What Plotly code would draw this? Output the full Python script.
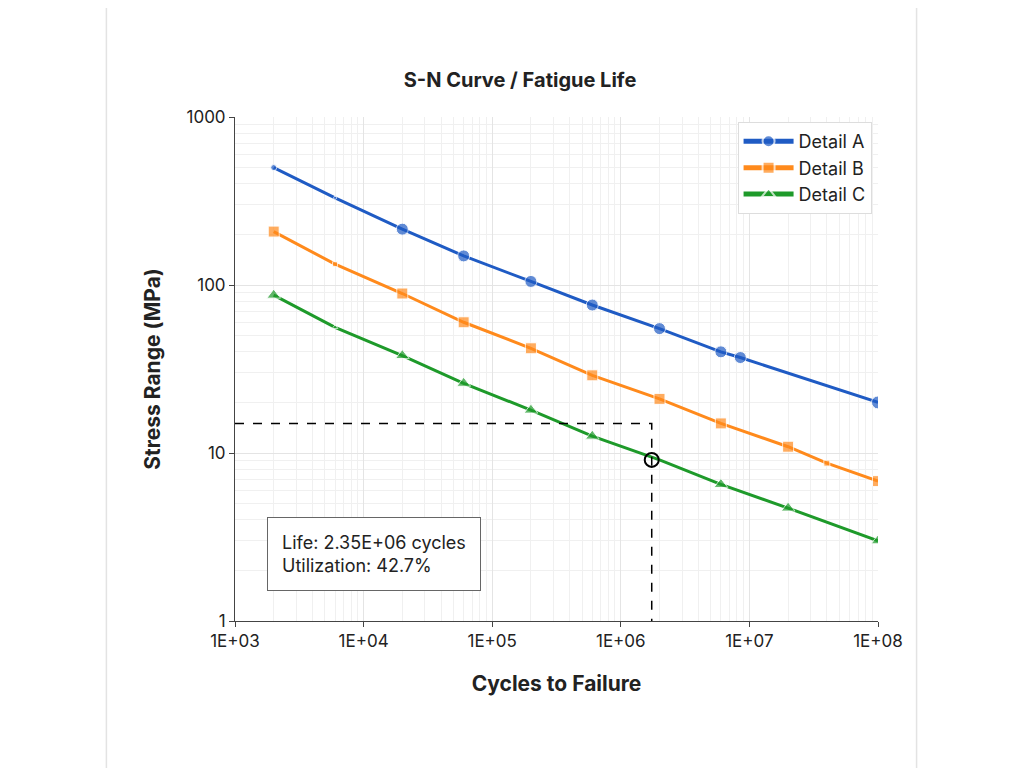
import plotly.graph_objects as go

# Cycles and stress ranges
cycles_a = [2e3, 6e3, 2e4, 6e4, 2e5, 6e5, 2e6, 6e6, 8.5e6, 1e8]
stress_a = [500, 330, 215, 149, 105, 76, 55, 40, 37, 20]
size_a = [6, 3, 12, 12, 12, 12, 12, 12, 12, 13]

cycles_b = [2e3, 6e3, 2e4, 6e4, 2e5, 6e5, 2e6, 6e6, 2e7, 4e7, 1e8]
stress_b = [208, 133, 89, 60, 42, 29, 21, 15, 10.9, 8.7, 6.8]
size_b = [11, 5, 11, 11, 11, 11, 11, 11, 11, 6, 11]

cycles_c = [2e3, 6e3, 2e4, 6e4, 2e5, 6e5, 2e6, 6e6, 2e7, 1e8]
stress_c = [87, 56, 38, 26, 18, 12.6, 9.1, 6.5, 4.7, 3.0]
size_c = [12, 5, 12, 12, 12, 12, 0, 12, 12, 12]

design_cycles = 1.74e6
design_stress = 15
point_stress = 9.1

tick_vals = [1e3, 1e4, 1e5, 1e6, 1e7, 1e8]
tick_text = ["1E+03", "1E+04", "1E+05", "1E+06", "1E+07", "1E+08"]

fig = go.Figure()
fig.add_trace(go.Scatter(x=cycles_a, y=stress_a, name="Detail A", mode="lines+markers",
                         line=dict(color="#1f5bc4", width=3),
                         marker=dict(symbol="circle", size=size_a)))
fig.add_trace(go.Scatter(x=cycles_b, y=stress_b, name="Detail B", mode="lines+markers",
                         line=dict(color="#ff8a1c", width=3),
                         marker=dict(symbol="square", size=size_b)))
fig.add_trace(go.Scatter(x=cycles_c, y=stress_c, name="Detail C", mode="lines+markers",
                         line=dict(color="#1e9a2a", width=3),
                         marker=dict(symbol="triangle-up", size=size_c)))

# Design point lines
fig.add_trace(go.Scatter(x=[1e3, design_cycles, design_cycles], y=[design_stress, design_stress, 1],
                         mode="lines", line=dict(color="black", width=1.5, dash="dash"),
                         showlegend=False, hoverinfo="skip"))
fig.add_trace(go.Scatter(x=[design_cycles], y=[point_stress], mode="markers",
                         marker=dict(symbol="circle-open", size=14, color="black", line=dict(width=2)),
                         showlegend=False))

fig.add_annotation(x=0.05, y=0.06, xref="paper", yref="paper", xanchor="left", yanchor="bottom",
                   text="Life: 2.35E+06 cycles<br>Utilization: 42.7%", showarrow=False,
                   align="left", font=dict(size=18, color="#222"),
                   bordercolor="#666", borderwidth=1, borderpad=14, bgcolor="white")

fig.add_shape(type="rect", xref="paper", yref="paper", x0=-0.2, x1=1.06, y0=-0.33, y1=1.225,
              line=dict(color="#e3e3e3", width=1.5), layer="below")

fig.update_layout(
    width=1024, height=768,
    paper_bgcolor="white", plot_bgcolor="white",
    margin=dict(l=227, r=154, t=109, b=155),
    title=dict(text="<b>S-N Curve / Fatigue Life</b>", x=0.5, xanchor="center", y=0.915,
               font=dict(size=20, color="#222")),
    font=dict(family="Inter, Roboto, sans-serif", size=17, color="#222"),
    legend=dict(x=0.99, y=0.99, xanchor="right", yanchor="top", bordercolor="#ddd",
                borderwidth=1, bgcolor="white", font=dict(size=18), itemwidth=50,
                tracegroupgap=10, itemsizing="constant"),
    showlegend=True,
)
minor = dict(showgrid=True, gridcolor="#f0f0f0", dtick="D1")
fig.update_xaxes(type="log", range=[3, 8], tickvals=tick_vals, ticktext=tick_text,
                 title=dict(text="<b>Cycles to Failure</b>", font=dict(size=21), standoff=25),
                 showgrid=True, gridcolor="#e4e4e4", linecolor="#444", showline=True,
                 minor=minor, ticks="outside", zeroline=False)
fig.update_yaxes(type="log", range=[0, 3], tickvals=[1, 10, 100, 1000],
                 ticktext=["1", "10", "100", "1000"],
                 title=dict(text="<b>Stress Range (MPa)</b>", font=dict(size=21), standoff=20),
                 showgrid=True, gridcolor="#e4e4e4", linecolor="#444", showline=True,
                 minor=minor, ticks="outside", zeroline=False)

fig.write_html("out.html")
